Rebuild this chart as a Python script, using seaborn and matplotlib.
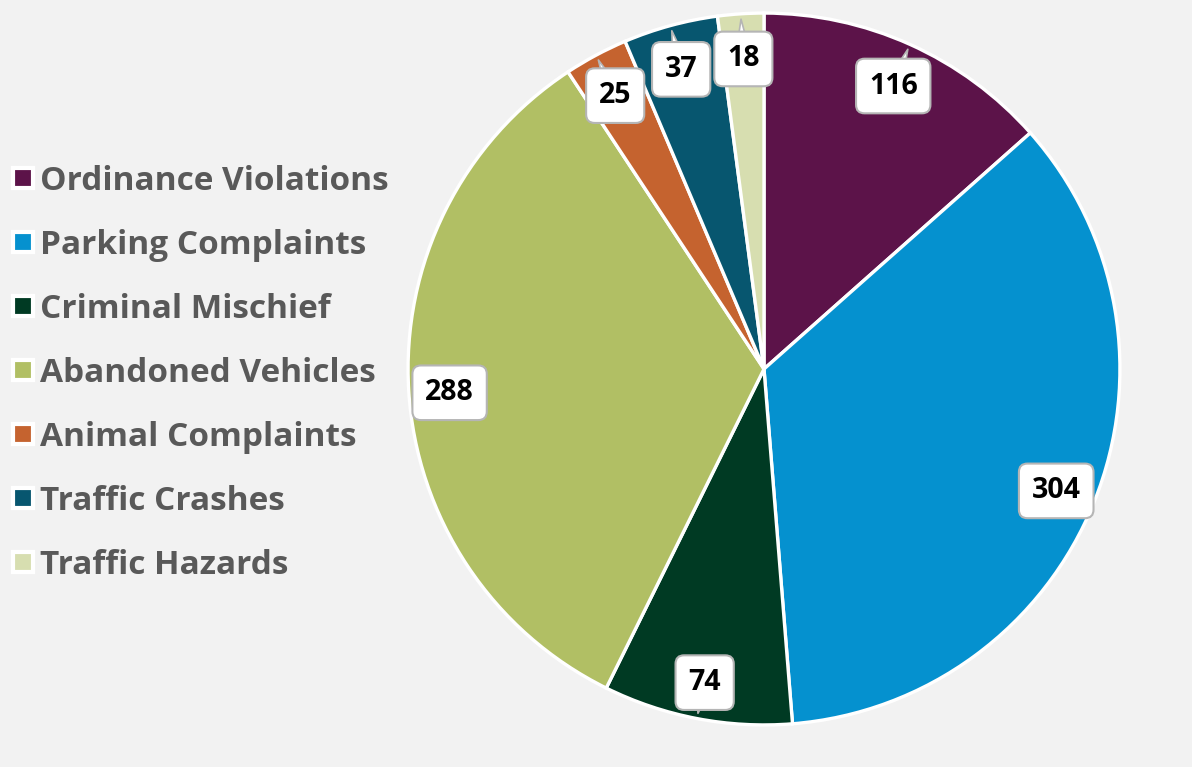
import matplotlib
matplotlib.use("Agg")
import matplotlib.pyplot as plt
from matplotlib.lines import Line2D
import numpy as np
import seaborn as sns

categories = ["Ordinance Violations", "Parking Complaints", "Criminal Mischief",
              "Abandoned Vehicles", "Animal Complaints", "Traffic Crashes", "Traffic Hazards"]
counts = [116, 304, 74, 288, 25, 37, 18]
colors = ["#5c1349", "#0591cf", "#003a23", "#b1bf64", "#c5632f", "#07566f", "#d7deb0"]

sns.set_theme(style="white")
plt.rcParams["font.family"] = ["Open Sans", "DejaVu Sans"]

bg = "#f2f2f2"
W, H = 1192, 767
fig = plt.figure(figsize=(W / 100, H / 100), dpi=100, facecolor=bg)

# pie axes placed so the circle sits where it does in the original
cx, cy, r = 764, 369, 357
ax = fig.add_axes([(cx - r) / W, (H - cy - r) / H, 2 * r / W, 2 * r / H])
ax.set_facecolor(bg)

wedges, _ = ax.pie(counts, colors=sns.color_palette(colors), startangle=90, counterclock=False,
                   radius=1, wedgeprops=dict(edgecolor="white", linewidth=2.4))
ax.set_xlim(-1.003, 1.003)
ax.set_ylim(-1.003, 1.003)
ax.set_aspect("equal")
ax.axis("off")

# value callouts
for w, v in zip(wedges, counts):
    mid = np.deg2rad((w.theta1 + w.theta2) / 2)
    lx, ly = 0.885 * np.cos(mid), 0.885 * np.sin(mid) - 0.012
    tx, ty = 0.985 * np.cos(mid), 0.985 * np.sin(mid)
    ax.annotate("", xy=(tx, ty), xytext=(lx, ly),
                arrowprops=dict(arrowstyle="wedge,tail_width=1.0,shrink_factor=0.5",
                                fc="white", ec="#b5b5b5", lw=1.2, shrinkA=0, shrinkB=0),
                zorder=4)
    ax.text(lx, ly, str(v), ha="center", va="center", fontsize=20.5, fontweight="bold",
            color="black", zorder=5,
            bbox=dict(boxstyle="round,pad=0.45,rounding_size=0.3", fc="white",
                      ec="#b5b5b5", lw=1.5))

handles = [Line2D([], [], marker="s", linestyle="none", markersize=15,
                  markerfacecolor=c, markeredgecolor="white", markeredgewidth=3)
           for c in colors]
leg = fig.legend(handles, categories, loc="upper left", bbox_to_anchor=(-0.003, 1 - 155 / H),
                 frameon=False, fontsize=24, labelspacing=0.93, handletextpad=0.0,
                 handlelength=1.0, borderaxespad=0.0, borderpad=0.3)
for t in leg.get_texts():
    t.set_color("#595959")
    t.set_fontweight("bold")

fig.savefig("out.png", dpi=100, facecolor=bg)
